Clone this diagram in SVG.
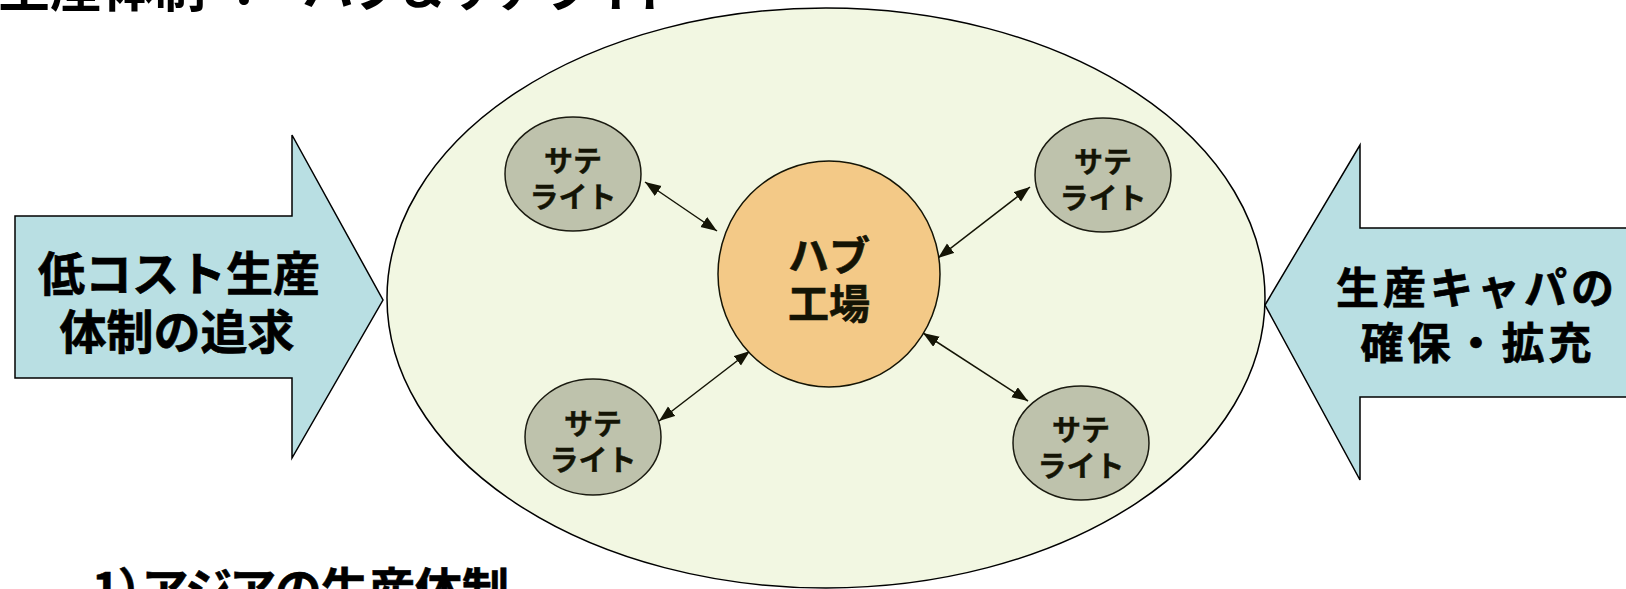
<svg xmlns="http://www.w3.org/2000/svg" width="1626" height="589" viewBox="0 0 1626 589">
<style>
text{font-family:"Noto Sans CJK JP","Noto Sans CJK SC",sans-serif;font-weight:bold;}
.title{font-size:52px;fill:#000;font-feature-settings:"palt";}
.sub{font-size:47px;fill:#000;font-feature-settings:"palt";stroke:#000;stroke-width:0.6px;}
.big{fill:#000;text-anchor:middle;stroke:#000;stroke-width:0.7px;}
.hubt{font-size:41px;fill:#141405;text-anchor:middle;stroke:#141405;stroke-width:0.6px;}
.satt{font-size:29px;fill:#141405;text-anchor:middle;stroke:#141405;stroke-width:0.4px;}
.sat{fill:#BEC2AC;stroke:#1a1a10;stroke-width:1.5;}
.barrow{fill:#B9DFE3;stroke:#000;stroke-width:1.5;stroke-linejoin:miter;}
.conn{stroke:#141405;stroke-width:1.5;fill:none;marker-start:url(#ah);marker-end:url(#ah);}
</style>
<defs>
<marker id="ah" markerUnits="userSpaceOnUse" markerWidth="17" markerHeight="13" refX="16" refY="6" orient="auto-start-reverse">
<path d="M0,0 L16,6 L0,12 z" fill="#141405"/>
</marker>
</defs>
<rect width="1626" height="589" fill="#fff"/>
<g id="title">
<text class="title" y="7"><tspan x="-2">生産体制</tspan><tspan x="231">：</tspan><tspan x="303">ハブ＆サテライト</tspan></text>
</g>
<g id="subtitle">
<text class="sub" x="92" y="607">1）アジアの生産体制</text>
</g>
<g id="region">
<ellipse cx="826" cy="298" rx="439" ry="290" fill="#F2F7E2" stroke="#000" stroke-width="1.5"/>
</g>
<g id="left-arrow">
<polygon class="barrow" points="15,216 292,216 292,135 383,300 292,458 292,378 15,378"/>
<text class="big" font-size="47" x="179" y="291">低コスト生産</text>
<text class="big" font-size="47" x="177" y="349">体制の追求</text>
</g>
<g id="right-arrow">
<polygon class="barrow" points="1265,305 1360,145 1360,228 1632,228 1632,397 1360,397 1360,480"/>
<text class="big" font-size="43" letter-spacing="4" x="1477" y="304">生産キャパの</text>
<text class="big" font-size="43" letter-spacing="4" x="1478" y="359">確保・拡充</text>
</g>
<g id="connectors">
<line class="conn" x1="645" y1="182" x2="717" y2="231"/>
<line class="conn" x1="938" y1="258" x2="1030" y2="187"/>
<line class="conn" x1="750" y1="351" x2="659" y2="421"/>
<line class="conn" x1="923" y1="333" x2="1028" y2="401"/>
</g>
<g id="hub">
<ellipse cx="829" cy="274" rx="111" ry="113" fill="#F3C987" stroke="#141405" stroke-width="1.5"/>
<text class="hubt" x="829" y="271">ハブ</text>
<text class="hubt" x="829" y="319">工場</text>
</g>
<g id="sat-tl">
<ellipse class="sat" cx="573" cy="174" rx="68" ry="57"/>
<text class="satt" x="573" y="172">サテ</text>
<text class="satt" x="573" y="208">ライト</text>
</g>
<g id="sat-tr">
<ellipse class="sat" cx="1103" cy="175" rx="68" ry="57"/>
<text class="satt" x="1103" y="173">サテ</text>
<text class="satt" x="1103" y="209">ライト</text>
</g>
<g id="sat-bl">
<ellipse class="sat" cx="593" cy="437" rx="68" ry="58"/>
<text class="satt" x="593" y="435">サテ</text>
<text class="satt" x="593" y="471">ライト</text>
</g>
<g id="sat-br">
<ellipse class="sat" cx="1081" cy="443" rx="68" ry="57"/>
<text class="satt" x="1081" y="441">サテ</text>
<text class="satt" x="1081" y="477">ライト</text>
</g>
</svg>
